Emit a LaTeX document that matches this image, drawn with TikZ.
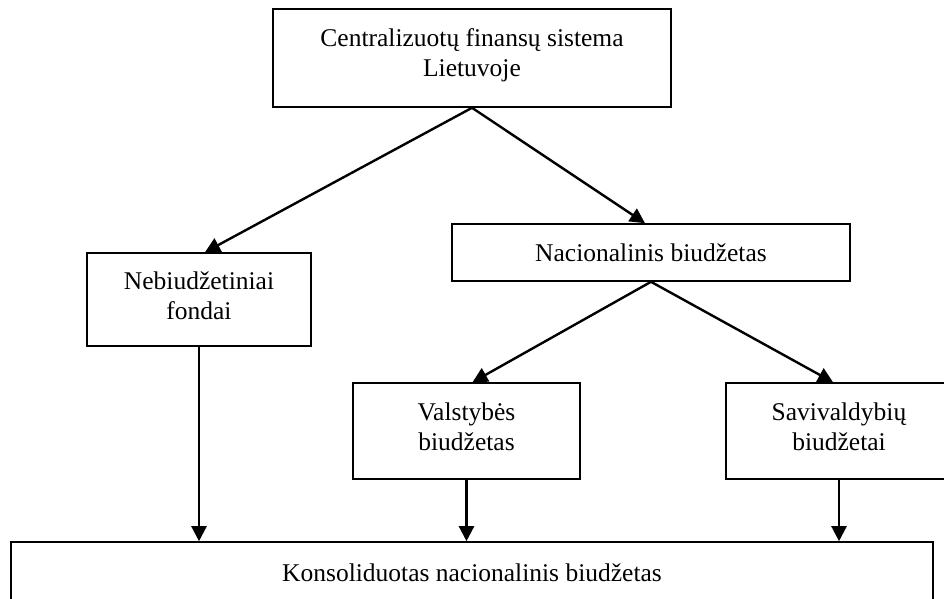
\documentclass[tikz,border=0pt]{standalone}
\usepackage{fontspec}
\setmainfont{Liberation Serif}
\usetikzlibrary{arrows.meta}

\begin{document}
\begin{tikzpicture}[x=1pt, y=-1pt, box/.style={draw, line width=1.6pt, align=center, inner sep=0pt, font=\fontsize{25.5}{30}\selectfont}, arr/.style={-{Triangle[length=15pt,width=15pt]}, line width=2.4pt}]
		\useasboundingbox (0,0) rectangle (944,599);
		\node[box, minimum width=398, minimum height=98] (cfs) at (472,58) {Centralizuotų finansų sistema\\Lietuvoje\rule[-10pt]{0pt}{0pt}};
		\node[box, minimum width=224, minimum height=93] (nbf) at (199,299.5) {Nebiudžetiniai\\fondai\rule[-7pt]{0pt}{0pt}};
		\node[box, minimum width=398, minimum height=57] (nb) at (651,252.5) {Nacionalinis biudžetas};
		\node[box, minimum width=227, minimum height=96] (vb) at (466.5,431) {Valstybės\\biudžetas\rule[-9pt]{0pt}{0pt}};
		\node[box, minimum width=226, minimum height=96] (sb) at (839,431) {Savivaldybių\\biudžetai\rule[-9pt]{0pt}{0pt}};
		\node[box, minimum width=922, minimum height=62] (knb) at (472,573) {Konsoliduotas nacionalinis biudžetas};
		\draw[arr] (cfs.south) -- ([xshift=6]nbf.north);
		\draw[arr] (cfs.south) -- ([xshift=-6]nb.north);
		\draw[arr] (nb.south) -- ([xshift=6]vb.north);
		\draw[arr] (nb.south) -- ([xshift=-6]sb.north);
		\draw[arr] (nbf.south) -- (nbf.south |- knb.north);
		\draw[arr] (vb.south) -- (vb.south |- knb.north);
		\draw[arr] (sb.south) -- (sb.south |- knb.north);
		\end{tikzpicture}
\end{document}
